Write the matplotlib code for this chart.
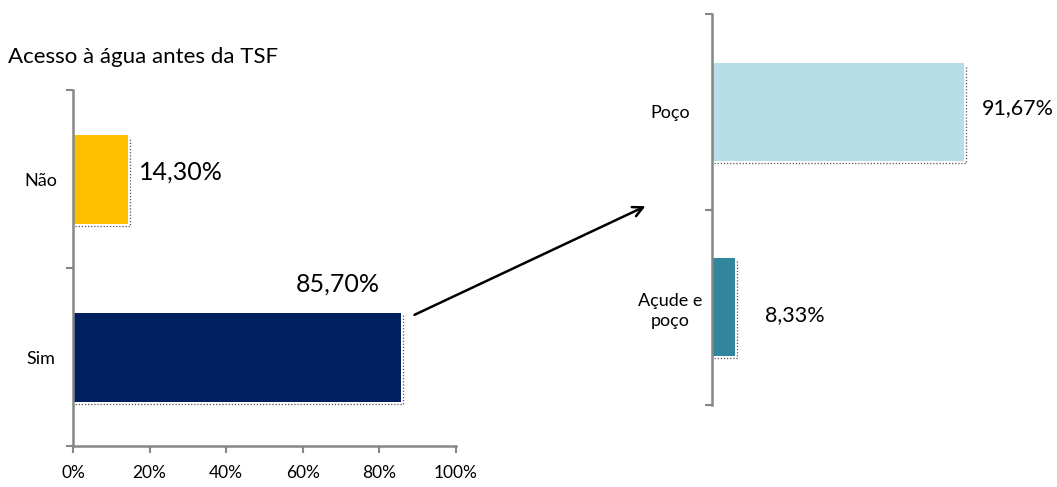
import matplotlib.pyplot as plt
from matplotlib.patches import FancyArrowPatch
from matplotlib import transforms

plt.rcParams['font.family'] = ['Lato', 'DejaVu Sans']

# acesso à água antes da TSF
cat_a = ['Sim', 'Não']
val_a = [0.857, 0.143]
lab_a = ['85,70%', '14,30%']
col_a = ['#002060', '#FFC000']

# fonte de água
cat_b = ['Açude e\npoço', 'Poço']
val_b = [0.0833, 0.9167]
lab_b = ['8,33%', '91,67%']
col_b = ['#31859C', '#B7DDE8']

x_ticks = [0, 0.2, 0.4, 0.6, 0.8, 1.0]
x_ticklabels = ['0%', '20%', '40%', '60%', '80%', '100%']

axis_grey = '#868686'
W, H = 1057, 487

fig = plt.figure(figsize=(W / 100, H / 100), dpi=100)
fig.patch.set_facecolor('white')

axA = fig.add_axes([73 / W, 1 - 446 / H, 383 / W, 356 / H])
axB = fig.add_axes([712 / W, 1 - 405 / H, 275 / W, 391 / H])


def shadow(ax, y, v, h=0.5):
    # sombra pontilhada à direita e embaixo da barra
    off = transforms.offset_copy(ax.transData, fig=fig, x=2, y=-2, units='dots')
    ax.plot([0, v, v], [y - h / 2, y - h / 2, y + h / 2], ls=(0, (1, 1.5)),
            color='#555555', lw=0.9, transform=off, zorder=1)


def style(ax, cats):
    ax.set_ylim(-0.5, len(cats) - 0.5)
    ax.set_yticks(range(len(cats)))
    ax.set_yticklabels(cats, fontsize=13, ha='center', multialignment='center',
                       linespacing=1.35)
    ax.tick_params(axis='y', which='major', length=0)
    ax.set_yticks([-0.5, 0.5, 1.5], minor=True)
    ax.tick_params(axis='y', which='minor', length=5, width=1.5, color=axis_grey)
    for s in ['top', 'right']:
        ax.spines[s].set_visible(False)
    ax.spines['left'].set_color(axis_grey)
    ax.spines['left'].set_linewidth(1.8)


# painel esquerdo
for i, v in enumerate(val_a):
    shadow(axA, i, v)
axA.barh(range(len(cat_a)), val_a, height=0.5, color=col_a, zorder=2)
style(axA, cat_a)
axA.tick_params(axis='y', which='major', pad=23)
axA.set_xlim(0, 1)
axA.set_xticks(x_ticks)
axA.set_xticklabels(x_ticklabels, fontsize=12.5)
axA.tick_params(axis='x', length=5, width=1.5, color=axis_grey, pad=9)
axA.spines['bottom'].set_color(axis_grey)
axA.spines['bottom'].set_linewidth(1.8)
axA.text(val_a[0] - 0.056, 0 + 0.41, lab_a[0], fontsize=18, ha='right', va='center')
axA.text(val_a[1] + 0.029, 1 + 0.04, lab_a[1], fontsize=18, ha='left', va='center')

fig.text(8 / W, 1 - 57 / H, 'Acesso à água antes da TSF', fontsize=16, ha='left', va='center')

# painel direito
for i, v in enumerate(val_b):
    shadow(axB, i, v)
axB.barh(range(len(cat_b)), val_b, height=0.5, color=col_b, zorder=2)
style(axB, cat_b)
axB.tick_params(axis='y', which='major', pad=30)
axB.set_xlim(0, 1)
axB.set_xticks([])
axB.spines['bottom'].set_visible(False)
axB.text(val_b[0] + 0.11, 0 - 0.04, lab_b[0], fontsize=15.5, ha='left', va='center')
axB.text(val_b[1] + 0.065, 1 + 0.02, lab_b[1], fontsize=15.5, ha='left', va='center')

# seta ligando "Sim" ao detalhamento
arrow = FancyArrowPatch((412 / W, 1 - 316 / H), (648 / W, 1 - 205 / H),
                        transform=fig.transFigure, arrowstyle='->', mutation_scale=18,
                        lw=1.8, color='black')
fig.add_artist(arrow)

fig.savefig('out.png', dpi=100)
